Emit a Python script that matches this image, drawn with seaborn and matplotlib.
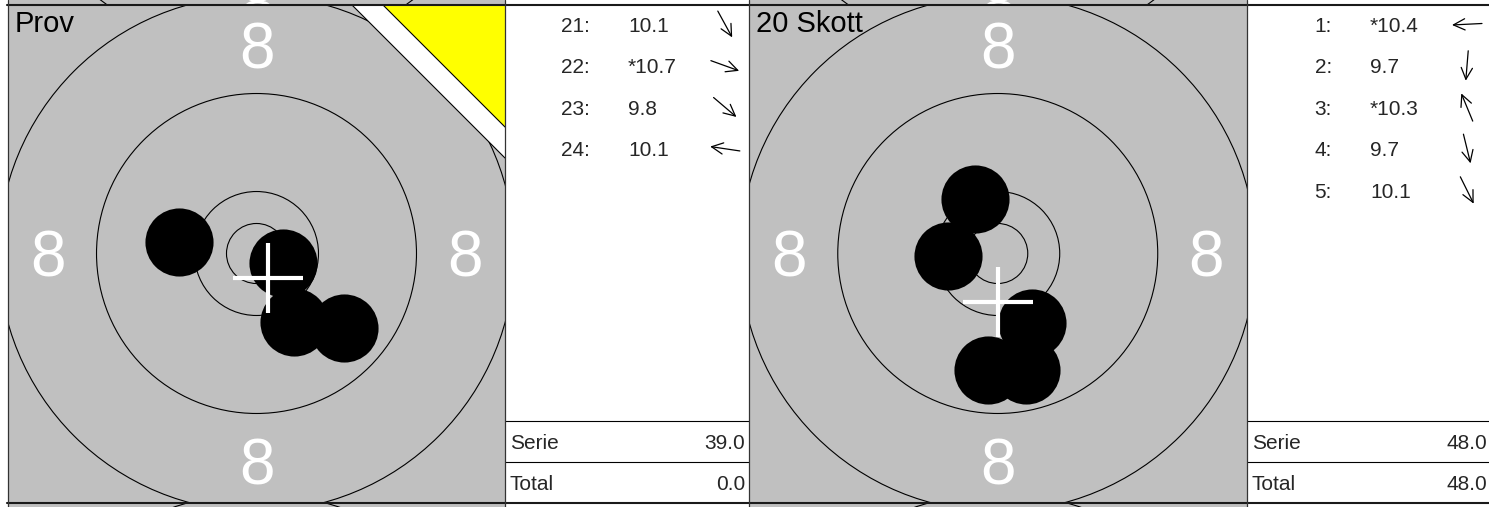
import numpy as np
import pandas as pd
import matplotlib
matplotlib.use("Agg")
import matplotlib.pyplot as plt
from matplotlib.patches import Circle, Polygon
import seaborn as sns

# ---------------- data ----------------
panel_titles = ["Prov", "20 Skott"]

prov_numbers = ["21:", "22:", "23:", "24:"]
prov_scores = ["10.1", "*10.7", "9.8", "10.1"]
prov_x = [3.06, 2.16, 7.14, -6.33]      # mm from centre, right +
prov_y = [-5.59, -0.78, -6.08, 0.94]    # mm from centre, up +
prov_mpi = [0.94, -2.00]
prov_serie = "39.0"
prov_total = "0.0"

match_numbers = ["1:", "2:", "3:", "4:", "5:"]
match_scores = ["*10.4", "9.7", "*10.3", "9.7", "10.1"]
match_x = [-4.04, -0.78, -1.84, 2.33, 2.82]
match_y = [-0.20, -9.51, 4.45, -9.51, -5.67]
match_mpi = [0.04, -3.96]
match_serie = "48.0"
match_total = "48.0"

summary_labels = ["Serie", "Total"]
ring_radii = [2.45, 5.06, 13.06, 21.06]   # mm
ring_label = "8"
ring_label_radius = 17.0                  # mm
shot_radius = 2.78                        # mm

# ---------------- style ----------------
sns.set_theme(style="white")
plt.rcParams["font.family"] = ["Liberation Sans", "DejaVu Sans"]

W, H, DPI = 1489, 507, 100
PX = 12.25            # pixels per mm
GREY = "#C0C0C0"
LABEL_FS = 46

fig = plt.figure(figsize=(W / DPI, H / DPI), dpi=DPI)
fig.patch.set_facecolor("white")


def rect(x0, y0, x1, y1):
    return [x0 / W, 1 - y1 / H, (x1 - x0) / W, (y1 - y0) / H]


def clean(ax):
    ax.set_xticks([])
    ax.set_yticks([])
    ax.set_xlabel("")
    ax.set_ylabel("")
    for s in ax.spines.values():
        s.set_visible(False)


def draw_face(ax, label_dirs):
    ax.set_facecolor(GREY)
    for r in ring_radii:
        ax.add_patch(Circle((0, 0), r, fill=False, ec="black", lw=0.8, zorder=1))
    half_cap = 0.358 * LABEL_FS * DPI / 72 / PX
    for (ux, uy) in label_dirs:
        ax.text(ux * ring_label_radius, uy * ring_label_radius - half_cap, ring_label,
                color="white", fontsize=LABEL_FS, ha="center", va="baseline",
                clip_on=True, zorder=2)


def target(x0, x1, title, xs, ys, mpi, sighter):
    w = x1 - x0
    half_w = (w / 2) / PX
    # main panel
    ax = fig.add_axes(rect(x0, 5, x1, 502))
    draw_face(ax, [(0, 1), (-1, 0), (1, 0), (0, -1)])
    df = pd.DataFrame({"x": xs, "y": ys})
    d_pt = 2 * shot_radius * PX * 72 / DPI
    sns.scatterplot(data=df, x="x", y="y", s=d_pt ** 2, color="black",
                    linewidth=0, ax=ax, legend=False, zorder=3)
    arm = 35 / PX
    ax.plot([mpi[0] - arm, mpi[0] + arm], [mpi[1], mpi[1]], color="white",
            lw=3, solid_capstyle="butt", zorder=4)
    ax.plot([mpi[0], mpi[0]], [mpi[1] - arm, mpi[1] + arm], color="white",
            lw=3, solid_capstyle="butt", zorder=4)
    half_h = (497 / 2) / PX
    ax.set_xlim(-half_w, half_w)
    ax.set_ylim(-half_h, half_h)
    ax.set_aspect("auto")
    clean(ax)
    if sighter:
        wl = 153 / 497
        yl = 122 / 497
        ax.add_patch(Polygon([(1 - wl, 1), (1, 1), (1, 1 - wl)], closed=True,
                             transform=ax.transAxes, fc="white", ec="none", zorder=5))
        ax.plot([1 - wl, 1], [1, 1 - wl], transform=ax.transAxes, color="black",
                lw=0.8, zorder=6)
        ax.add_patch(Polygon([(1 - yl, 1), (1, 1), (1, 1 - yl)], closed=True,
                             transform=ax.transAxes, fc="#FFFF00", ec="none", zorder=5))
        ax.plot([1 - yl, 1], [1, 1 - yl], transform=ax.transAxes, color="black",
                lw=0.8, zorder=6)
    ax.text(7 / w, 1 - 27 / 497, title, transform=ax.transAxes, fontsize=21,
            ha="left", va="baseline", color="black", zorder=7)

    # strip of previous row (top): only its lower "8" reaches this strip
    axt = fig.add_axes(rect(x0, 0, x1, 4.5))
    draw_face(axt, [(0, -1)])
    axt.set_xlim(-half_w, half_w)
    axt.set_ylim((-205.5 - 4.5) / PX, -205.5 / PX)
    clean(axt)
    # strip of next row (bottom): only rings reach this strip
    axb = fig.add_axes(rect(x0, 503.5, x1, 507))
    draw_face(axb, [])
    axb.set_xlim(-half_w, half_w)
    axb.set_ylim((751.5 - 507) / PX, (751.5 - 503.5) / PX)
    clean(axb)


def table(x0, x1, numbers, scores, xs, ys, serie, total):
    w = x1 - x0
    ax = fig.add_axes(rect(x0, 5, x1, 502))
    ax.set_facecolor("white")
    ax.set_xlim(0, w)
    ax.set_ylim(497, 0)
    clean(ax)
    fs = 15
    half_cap = 0.358 * fs * DPI / 72
    for i, (n, sc, sx, sy) in enumerate(zip(numbers, scores, xs, ys)):
        base = 26.7 + 41.5 * i
        ax.text(85, base, n, fontsize=fs, ha="right", va="baseline")
        ax.text(123, base, sc, fontsize=fs, ha="left", va="baseline")
        a = np.arctan2(sy, sx)
        cy = base - half_cap
        dx, dy = 15 * np.cos(a), -15 * np.sin(a)
        ax.annotate("", xy=(220 + dx, cy + dy), xytext=(220 - dx, cy - dy),
                    arrowprops=dict(arrowstyle="->,head_length=0.55,head_width=0.27",
                                    lw=0.9, color="black", shrinkA=0, shrinkB=0,
                                    mutation_scale=15))
    ax.text(5, 443.5, summary_labels[0], fontsize=fs, ha="left", va="baseline")
    ax.text(240, 443.5, serie, fontsize=fs, ha="right", va="baseline")
    ax.text(5, 485, summary_labels[1], fontsize=fs, ha="left", va="baseline")
    ax.text(240, 485, total, fontsize=fs, ha="right", va="baseline")
    ax.plot([0, w], [416, 416], color="black", lw=0.8)
    ax.plot([0, w], [457, 457], color="black", lw=0.8)


target(8, 505, panel_titles[0], prov_x, prov_y, prov_mpi, True)
table(505, 748.5, prov_numbers, prov_scores, prov_x, prov_y, prov_serie, prov_total)
target(749, 1246.5, panel_titles[1], match_x, match_y, match_mpi, False)
table(1247, 1489, match_numbers, match_scores, match_x, match_y, match_serie, match_total)

# overlay grid lines
ov = fig.add_axes([0, 0, 1, 1])
ov.patch.set_alpha(0)
ov.set_xlim(0, W)
ov.set_ylim(H, 0)
ov.set_axis_off()
for y in (4.7, 502.7):
    ov.plot([7, W], [y, y], color="#1a1a1a", lw=1.5)
for x in (7.5, 505, 748.5, 1247):
    ov.plot([x, x], [0, H], color="#333333", lw=0.9)

fig.savefig("out.png", dpi=DPI, facecolor="white")
